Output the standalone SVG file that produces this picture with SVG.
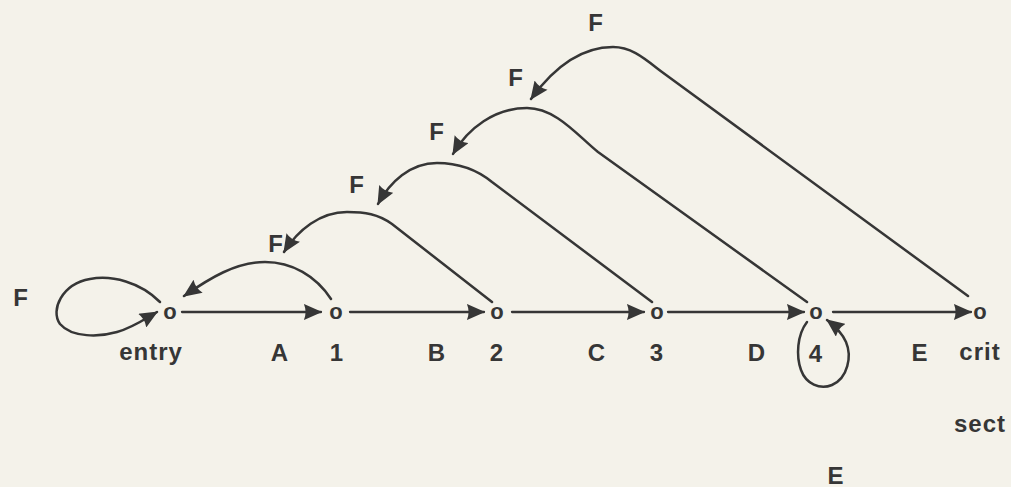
<svg xmlns="http://www.w3.org/2000/svg" width="1011" height="487" viewBox="0 0 1011 487">
<style>
.lbl{font-family:"Liberation Sans",Arial,sans-serif;font-weight:700;font-size:24px;fill:#363636;text-anchor:middle;letter-spacing:1px}
.nd{font-family:"Liberation Sans",Arial,sans-serif;font-weight:700;font-size:22px;fill:#363636;text-anchor:middle}
.edge{fill:none;stroke:#363636;stroke-width:2.3;stroke-linecap:round;stroke-linejoin:round}
.arc{fill:none;stroke:#363636;stroke-width:2.5;stroke-linecap:round;stroke-linejoin:round}
</style>
<defs>
<marker id="ah" viewBox="0 0 16 14" refX="15" refY="7" markerWidth="19" markerHeight="16" markerUnits="userSpaceOnUse" orient="auto">
<path d="M0,0 L16,7 L0,14 Q3,7 0,0 z" fill="#363636"/>
</marker>
</defs>
<rect width="1011" height="487" fill="#f4f2ea"/>
<g id="connectors">
<line class="edge" x1="182" y1="312" x2="321" y2="312" marker-end="url(#ah)"/>
<line class="edge" x1="350" y1="312" x2="484" y2="312" marker-end="url(#ah)"/>
<line class="edge" x1="512" y1="312" x2="644" y2="312" marker-end="url(#ah)"/>
<line class="edge" x1="668" y1="312" x2="804" y2="312" marker-end="url(#ah)"/>
<line class="edge" x1="833" y1="312" x2="971" y2="312" marker-end="url(#ah)"/>
<path class="arc" d="M160 302 C140 282 112 275 90 279 C62 284 50 310 60 324 C72 338 100 337 117 332 C132 328 145 319 157 312" marker-end="url(#ah)"/>
<path class="arc" d="M807 322 C797 335 796 356 801 370 C806 384 820 390 832 385 C848 378 852 356 846 342 C842 333 835 326 827 320" marker-end="url(#ah)"/>
<path class="arc" d="M331 299 C316 276 292 262 265 262 C236 262 210 278 184 296" marker-end="url(#ah)"/>
<path class="arc" d="M492 302 L392 224 C378 214 365 212 347 212 C320 212 298 230 284 252" marker-end="url(#ah)"/>
<path class="arc" d="M652 302 L492 182 C476 169 458 163 437 163 C410 163 390 182 378 204" marker-end="url(#ah)"/>
<path class="arc" d="M807 302 L598 152 C578 136 556 108 527 108 C495 108 468 128 453 154" marker-end="url(#ah)"/>
<path class="arc" d="M968 296 L662 72 C645 59 632 47 613 47 C580 47 552 70 531 99" marker-end="url(#ah)"/>
</g>
<g id="node-entry"><text class="nd" x="170" y="319">o</text><text class="lbl" x="151" y="360">entry</text></g>
<g id="node-1"><text class="nd" x="336" y="319">o</text><text class="lbl" x="337" y="361">1</text></g>
<g id="node-2"><text class="nd" x="497" y="319">o</text><text class="lbl" x="497" y="361">2</text></g>
<g id="node-3"><text class="nd" x="657" y="319">o</text><text class="lbl" x="657" y="361">3</text></g>
<g id="node-4"><text class="nd" x="816" y="319">o</text><text class="lbl" x="816" y="362">4</text></g>
<g id="node-crit"><text class="nd" x="980" y="319">o</text><text class="lbl" x="980" y="360">crit</text><text class="lbl" x="980" y="432">sect</text></g>
<g id="labels">
<text class="lbl" x="280" y="361">A</text>
<text class="lbl" x="437" y="361">B</text>
<text class="lbl" x="597" y="361">C</text>
<text class="lbl" x="757" y="361">D</text>
<text class="lbl" x="920" y="361">E</text>
<text class="lbl" x="836" y="484">E</text>
<text class="lbl" x="21" y="306">F</text>
<text class="lbl" x="276" y="252">F</text>
<text class="lbl" x="357" y="193">F</text>
<text class="lbl" x="437" y="140">F</text>
<text class="lbl" x="516" y="86">F</text>
<text class="lbl" x="596" y="31">F</text>
</g>
</svg>
